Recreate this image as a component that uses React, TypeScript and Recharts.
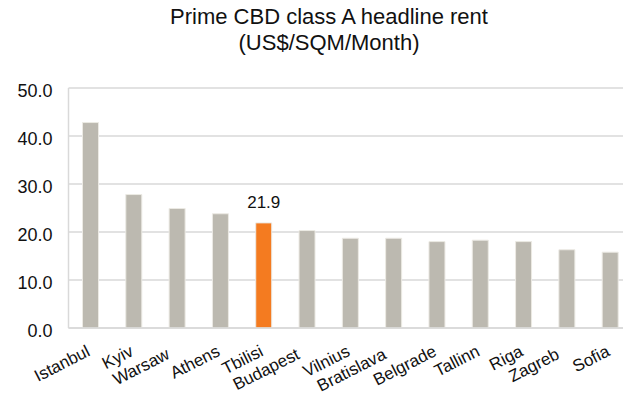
import React from "react";
import { BarChart, Bar, XAxis, YAxis, CartesianGrid, Cell, LabelList } from "recharts";

const categories = [
  "Istanbul", "Kyiv", "Warsaw", "Athens", "Tbilisi", "Budapest", "Vilnius",
  "Bratislava", "Belgrade", "Tallinn", "Riga", "Zagreb", "Sofia",
];
const rents = [42.8, 27.8, 24.9, 23.8, 21.9, 20.3, 18.7, 18.7, 18.0, 18.3, 18.0, 16.3, 15.8];
const highlight = "Tbilisi";
const yTicks = [0, 10, 20, 30, 40, 50];
const titleLines = ["Prime CBD class A headline rent", "(US$/SQM/Month)"];
// labels that the original chart pushes down to avoid overlapping their neighbours
const staggeredLabels = ["Warsaw", "Budapest", "Bratislava", "Zagreb"];

const data = categories.map((city, i) => ({ city, rent: rents[i] }));

const FONT = "'Liberation Sans', Arial, sans-serif";
const GREY = "#BCB9B0";
const ORANGE = "#F47B20";
const GRID = "#D9D9D9";

const YTick = (props: any) => {
  const { x, y, payload } = props;
  return (
    <text x={x} y={y} dy={9} textAnchor="end" fontFamily={FONT} fontSize={18} fill="#111">
      {Number(payload.value).toFixed(1)}
    </text>
  );
};

const XTick = (props: any) => {
  const { x, y, payload } = props;
  const shifted = staggeredLabels.includes(payload.value);
  const dx = shifted ? -6 : 1;
  const dy = shifted ? 30 : 27;
  return (
    <g transform={`translate(${x + dx},${y + dy})`}>
      <text transform="rotate(-27)" textAnchor="end" fontFamily={FONT} fontSize={17} fill="#111">
        {payload.value}
      </text>
    </g>
  );
};

const HighlightLabel = (props: any) => {
  const { x, y, width, value, index } = props;
  if (categories[index] !== highlight) return null;
  return (
    <text x={x + width / 2} y={y - 15} textAnchor="middle" fontFamily={FONT} fontSize={17} fill="#111">
      {Number(value).toFixed(1)}
    </text>
  );
};

export default function App() {
  return (
    <div
      style={{
        position: "absolute",
        left: 0,
        top: 0,
        width: 623,
        height: 394,
        overflow: "hidden",
        background: "#fff",
      }}
    >
      <div
        style={{
          position: "absolute",
          left: 0,
          top: 4,
          width: 658,
          textAlign: "center",
          fontFamily: FONT,
          fontSize: 22,
          lineHeight: "26px",
          color: "#111",
        }}
      >
        {titleLines.map((t) => (
          <div key={t}>{t}</div>
        ))}
      </div>
      <div style={{ position: "absolute", left: 0, top: 0 }}>
        <BarChart
          width={640}
          height={394}
          data={data}
          margin={{ top: 88, right: 8.5, bottom: 6, left: 8.5 }}
          barCategoryGap={0}
        >
          <CartesianGrid vertical={false} stroke={GRID} strokeWidth={1.5} />
          <XAxis
            dataKey="city"
            interval={0}
            height={60}
            tickLine={false}
            tickSize={0}
            tickMargin={0}
            axisLine={{ stroke: GRID, strokeWidth: 1.5 }}
            tick={<XTick />}
          />
          <YAxis
            domain={[0, 50]}
            ticks={yTicks}
            width={60}
            tickLine={false}
            tickSize={0}
            tickMargin={16}
            axisLine={{ stroke: GRID, strokeWidth: 1.5 }}
            tick={<YTick />}
          />
          <Bar dataKey="rent" barSize={16} stroke="#ECEAE4" strokeWidth={1} isAnimationActive={false}>
            {data.map((d) => (
              <Cell key={d.city} fill={d.city === highlight ? ORANGE : GREY} />
            ))}
            <LabelList dataKey="rent" content={<HighlightLabel />} />
          </Bar>
        </BarChart>
      </div>
    </div>
  );
}
